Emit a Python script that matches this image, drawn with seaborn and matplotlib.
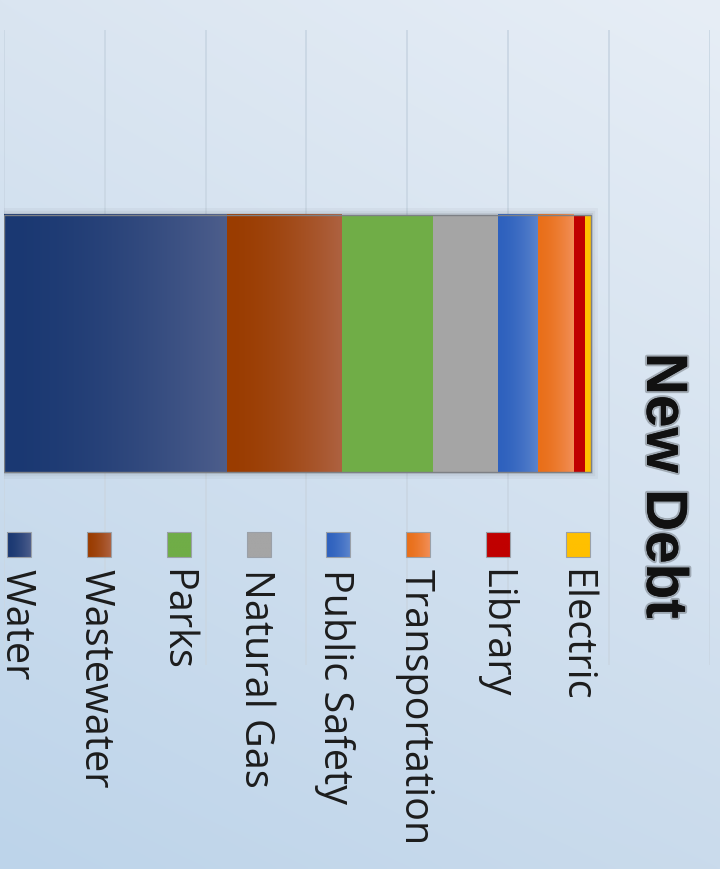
import numpy as np
import pandas as pd
import matplotlib
matplotlib.use("Agg")
import matplotlib.pyplot as plt
import seaborn as sns
from matplotlib.colors import to_rgb
from matplotlib.patches import Rectangle
import matplotlib.patheffects as pe

# ---------------- data ----------------
categories = ["Water", "Wastewater", "Parks", "Natural Gas", "Public Safety",
              "Transportation", "Library", "Electric"]
values = [22.1, 11.3, 9.1, 6.5, 4.0, 3.5, 1.1, 0.6]
title = "New Debt"
grid_ticks = [0, 10, 20, 30, 40, 50, 60, 70]

# gradient colours (start -> end), per category
col_start = ["#1a3872", "#9a3c00", "#70ad47", "#a5a5a5", "#2e61be", "#e96f19", "#c00000", "#ffc000"]
col_end   = ["#4d5e8c", "#ae6241", "#70ad47", "#a5a5a5", "#5c85cd", "#f28f58", "#c00000", "#ffc000"]

# ---------------- figure ----------------
sns.set_theme(style="white")
plt.rcParams["font.family"] = ["Open Sans", "DejaVu Sans"]

W, H = 720, 869
fig = plt.figure(figsize=(W / 100, H / 100), dpi=100)

# background gradient
bg = fig.add_axes([0, 0, 1, 1], zorder=0)
bg.set_xlim(0, W); bg.set_ylim(H, 0); bg.axis("off")
yy, xx = np.mgrid[0:1:300j, 0:1:300j]
c_tl = np.array(to_rgb("#dae5f1")); c_tr = np.array(to_rgb("#e7eef6"))
c_bl = np.array(to_rgb("#bdd4ea")); c_br = np.array(to_rgb("#cadbec"))
img = (c_tl * ((1 - xx) * (1 - yy))[..., None] + c_tr * (xx * (1 - yy))[..., None]
       + c_bl * ((1 - xx) * yy)[..., None] + c_br * (xx * yy)[..., None])
bg.imshow(img, extent=[0, W, H, 0], aspect="auto", interpolation="bicubic")

# main axes
ax = fig.add_axes([3.7 / W, (H - 665) / H, (710 - 3.7) / W, 635 / H], zorder=1)
ax.set_facecolor("none")

cum = np.cumsum(values)
for i in reversed(range(len(categories))):
    df = pd.DataFrame({"value": [cum[i]], "series": [title]})
    sns.barplot(data=df, x="value", y="series", orient="h", color=col_start[i],
                saturation=1, width=0.8, errorbar=None, linewidth=0, ax=ax, zorder=2)

p = ax.patches[-1]
y0, hgt = p.get_y(), p.get_height()

def grad(c0, c1, n=256, gamma=1.6):
    a, b = np.array(to_rgb(c0)), np.array(to_rgb(c1))
    t = (np.linspace(0, 1, n) ** gamma)[:, None]
    return (a * (1 - t) + b * t)[None, :, :]

for i in range(len(categories)):
    if col_start[i] != col_end[i]:
        left = cum[i - 1] if i > 0 else 0
        ax.imshow(grad(col_start[i], col_end[i]), extent=[left, cum[i], y0 + hgt, y0],
                  aspect="auto", zorder=3, interpolation="bilinear")

# soft shadow + outline
shadow = Rectangle((0, y0), cum[-1], hgt, fill=False, lw=0.1, ec=(0, 0, 0, 0.0), zorder=1.5,
                   path_effects=[pe.Stroke(linewidth=10, foreground=(0, 0, 0, 0.03)),
                                 pe.Stroke(linewidth=6, foreground=(0, 0, 0, 0.04)),
                                 pe.Stroke(linewidth=3, foreground=(0, 0, 0, 0.07))])
ax.add_patch(shadow)
ax.add_patch(Rectangle((0, y0), cum[-1], hgt, fill=False, lw=1, ec="#7d8085", zorder=5))

ax.set_xlim(grid_ticks[0], grid_ticks[-1])
ax.set_xticks(grid_ticks)
ax.set_ylim(-1.0005, 0.9755)
ax.set_yticks([])
ax.set_xticklabels([])
ax.set_xlabel(""); ax.set_ylabel("")
ax.tick_params(length=0)
ax.grid(axis="x", color="#cad7e4", lw=1.3, zorder=0)
ax.grid(axis="y", visible=False)
for s in ax.spines.values():
    s.set_visible(False)

# overlay for legend / title
ov = fig.add_axes([0, 0, 1, 1], zorder=2)
ov.set_xlim(0, W); ov.set_ylim(H, 0); ov.axis("off"); ov.set_facecolor("none")

pitch = 79.86
for i, cat in enumerate(categories):
    x0 = 7 + pitch * i
    ov.imshow(grad(col_start[i], col_end[i]), extent=[x0, x0 + 24, 557, 532],
              aspect="auto", zorder=3, interpolation="bilinear")
    ov.add_patch(Rectangle((x0, 532), 24, 25, fill=False, lw=0.8, ec="#9aa0a8", zorder=4))
    ov.text(x0 - 2.0, 569, cat, rotation=-90, rotation_mode="anchor", ha="left",
            va="baseline", fontsize=28.5, color="#1c1c1c", zorder=5)
ov.set_xlim(0, W); ov.set_ylim(H, 0)

fig.text(662 / W, 1 - 486 / H, title, rotation=-90, ha="center", va="center",
         fontsize=42, fontweight="bold", family=["Liberation Sans", "DejaVu Sans"],
         color="#111111", zorder=10,
         path_effects=[pe.withStroke(linewidth=3, foreground=(0, 0, 0, 0.25))])

fig.savefig("out.png", dpi=100)
